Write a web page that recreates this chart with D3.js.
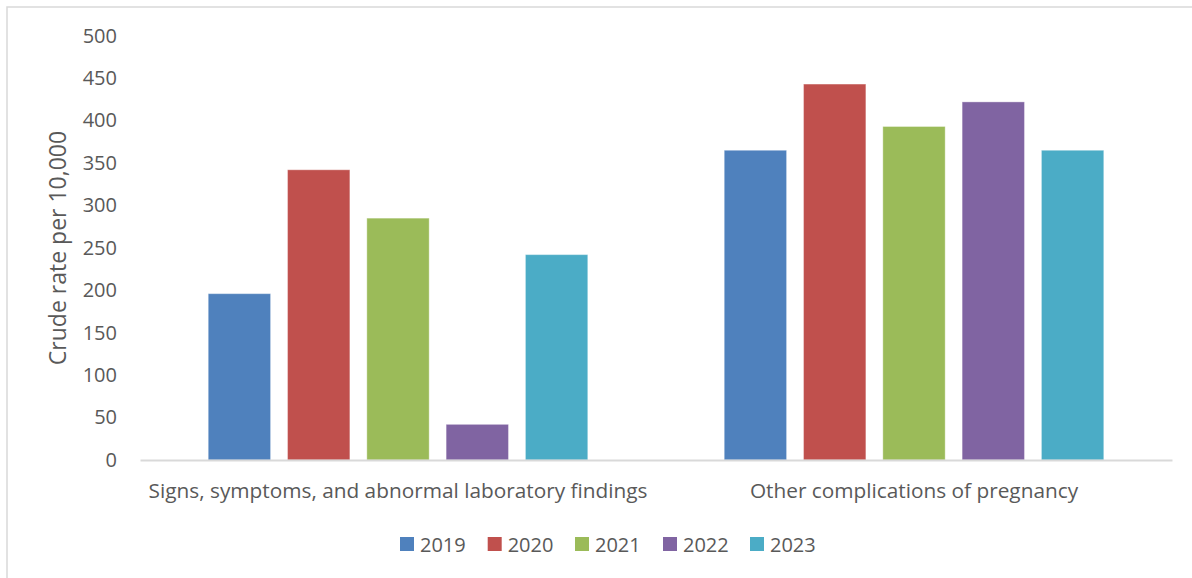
<!DOCTYPE html>
<html>
<head>
<meta charset="utf-8">
<script src="https://cdn.jsdelivr.net/npm/d3@7"></script>
<style>
  html, body { margin: 0; padding: 0; background: #fff; }
  svg { display: block; }
  text { font-family: "Open Sans", "Noto Sans", sans-serif; fill: #595959; }
</style>
</head>
<body>
<svg id="chart" width="1192" height="578"></svg>
<script>
const categories = ["Signs, symptoms, and abnormal laboratory findings", "Other complications of pregnancy"];
const years = ["2019", "2020", "2021", "2022", "2023"];
const values2019 = [196, 365];
const values2020 = [342, 443];
const values2021 = [285, 393];
const values2022 = [42, 422];
const values2023 = [242, 365];
const seriesValues = [values2019, values2020, values2021, values2022, values2023];
const colors = ["#4f81bd", "#c0504d", "#9bbb59", "#8064a2", "#4bacc6"];
const yTicks = [0, 50, 100, 150, 200, 250, 300, 350, 400, 450, 500];
const yLabel = "Crude rate per 10,000";

const svg = d3.select("#chart");
const W = 1192, H = 578;
const plot = { left: 140, right: 1172, top: 35.7, bottom: 460 };

// outer frame (top + left visible)
svg.append("rect").attr("x", 7).attr("y", 7).attr("width", W + 10).attr("height", H + 10)
  .attr("fill", "none").attr("stroke", "#d9d9d9").attr("stroke-width", 1.5);

const y = d3.scaleLinear().domain([0, 500]).range([plot.bottom, plot.top]);
const x0 = d3.scaleBand().domain(categories).range([plot.left, plot.right]).padding(0);
const bw = x0.bandwidth();
const groupW = 396.5;
const x1 = d3.scaleBand().domain(years)
  .range([(bw - groupW) / 2, (bw + groupW) / 2])
  .paddingInner(0.214).paddingOuter(0.107);

// y axis labels
const yAxis = d3.axisLeft(y).tickValues(yTicks).tickSize(0).tickPadding(0);
const yg = svg.append("g").attr("transform", `translate(117,0)`).call(yAxis);
yg.select(".domain").remove();
yg.selectAll("text").attr("font-size", 20).attr("fill", "#595959")
  .style("font-family", '"Open Sans", sans-serif');

// bars
const data = [];
categories.forEach((c, ci) => years.forEach((yr, si) => data.push({ c, yr, si, v: seriesValues[si][ci] })));
svg.append("g").selectAll("rect").data(data).join("rect")
  .attr("x", d => x0(d.c) + x1(d.yr))
  .attr("y", d => y(d.v))
  .attr("width", x1.bandwidth())
  .attr("height", d => y(0) - y(d.v))
  .attr("fill", d => colors[d.si])
  .attr("stroke", "#ffffff").attr("stroke-opacity", 0.35).attr("stroke-width", 1);

// x axis
const xAxis = d3.axisBottom(x0).tickSize(0).tickPadding(0);
const xg = svg.append("g").attr("transform", `translate(0,${plot.bottom})`).call(xAxis);
xg.select(".domain").attr("stroke", "#d9d9d9").attr("stroke-width", 2);
xg.selectAll("text").attr("font-size", 20.8).attr("fill", "#595959").attr("dy", 0).attr("y", 38)
  .style("font-family", '"Open Sans", sans-serif');

// y axis title
svg.append("text")
  .attr("transform", `translate(66,248) rotate(-90)`)
  .attr("text-anchor", "middle")
  .attr("font-size", 23)
  .text(yLabel);

// legend
const legendX = [400, 487.7, 575, 663, 750];
const lg = svg.append("g");
years.forEach((yr, i) => {
  lg.append("rect").attr("x", legendX[i]).attr("y", 537).attr("width", 14).attr("height", 14).attr("fill", colors[i]);
  lg.append("text").attr("x", legendX[i] + 20).attr("y", 551.5).attr("font-size", 20).text(yr);
});
</script>
</body>
</html>
